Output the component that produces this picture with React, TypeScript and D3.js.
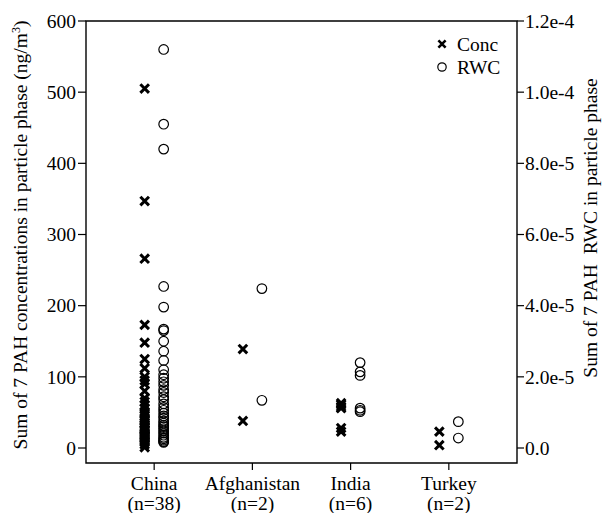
import React from "react";
import * as d3 from "d3";

const countries = ["China", "Afghanistan", "India", "Turkey"];
const sampleLabels = ["(n=38)", "(n=2)", "(n=6)", "(n=2)"];

// Sum of 7 PAH concentrations (ng/m3)
const concChina = [505, 347, 266, 173, 148, 125, 112, 100, 95, 90, 80, 70, 65, 60, 55, 50, 48, 45, 42, 40, 38, 35, 33, 30, 28, 26, 25, 22, 20, 18, 17, 15, 14, 12, 10, 8, 5, 1];
const concAfghanistan = [139, 38];
const concIndia = [63, 61, 58, 56, 28, 23];
const concTurkey = [23, 4];

// Sum of 7 PAH RWC
const rwcChina = [1.12e-4, 9.1e-5, 8.4e-5, 4.54e-5, 3.96e-5, 3.34e-5, 3.3e-5, 3.0e-5, 2.72e-5, 2.46e-5, 2.2e-5, 2.06e-5, 1.96e-5, 1.86e-5, 1.76e-5, 1.64e-5, 1.56e-5, 1.44e-5, 1.36e-5, 1.24e-5, 1.14e-5, 1.06e-5, 9.8e-6, 9.0e-6, 8.4e-6, 7.6e-6, 7.0e-6, 6.4e-6, 6.0e-6, 5.4e-6, 4.8e-6, 4.2e-6, 3.6e-6, 3.0e-6, 2.6e-6, 2.2e-6, 1.8e-6, 1.6e-6];
const rwcAfghanistan = [4.48e-5, 1.34e-5];
const rwcIndia = [2.4e-5, 2.14e-5, 2.04e-5, 1.12e-5, 1.06e-5, 1.02e-5];
const rwcTurkey = [7.4e-6, 2.8e-6];

const concTicks = [0, 100, 200, 300, 400, 500, 600];
const rwcTicks = [0, 2e-5, 4e-5, 6e-5, 8e-5, 1.0e-4, 1.2e-4];
const rwcTickLabels = ["0.0", "2.0e-5", "4.0e-5", "6.0e-5", "8.0e-5", "1.0e-4", "1.2e-4"];

const concSeries = [concChina, concAfghanistan, concIndia, concTurkey];
const rwcSeries = [rwcChina, rwcAfghanistan, rwcIndia, rwcTurkey];

const W = 602;
const H = 513;
const left = 86;
const right = 517;
const top = 21;
const bottom = 463;
const font = "'Liberation Serif', 'Times New Roman', Times, serif";

const x = d3.scalePoint<string>().domain(countries).range([left, right]).padding(0.694);
const yConc = d3.scaleLinear().domain([0, 600]).range([448, top]);
const yRwc = d3.scaleLinear().domain([0, 1.2e-4]).range([448, top]);

const cross = (cx: number, cy: number, r: number) =>
  `M${cx - r},${cy - r}L${cx + r},${cy + r}M${cx - r},${cy + r}L${cx + r},${cy - r}`;

const txt = { fontFamily: font, fontSize: 19.5 };

export default function App() {
  return (
    <svg width={W} height={H} style={{ position: "absolute", left: 0, top: 0, fontFamily: font }}>
      <rect width={W} height={H} fill="#fff" />
      {/* frame */}
      <path d={`M${left},${top}H${right}V${bottom}H${left}Z`} fill="none" stroke="#000" strokeWidth={1.4} />

      {/* left axis */}
      {concTicks.map((t) => (
        <g key={t} transform={`translate(0,${yConc(t)})`}>
          <line x1={left - 8} x2={left} stroke="#000" strokeWidth={1.2} />
          <text x={left - 10} dy="0.35em" textAnchor="end" style={txt}>{t}</text>
        </g>
      ))}

      {/* right axis */}
      {rwcTicks.map((t, i) => (
        <g key={i} transform={`translate(0,${yRwc(t)})`}>
          <line x1={right} x2={right + 7} stroke="#000" strokeWidth={1.2} />
          <text x={right + 8} dy="0.35em" textAnchor="start" style={txt}>{rwcTickLabels[i]}</text>
        </g>
      ))}

      {/* bottom axis */}
      {countries.map((c, i) => (
        <g key={c} transform={`translate(${x(c)},0)`}>
          <line y1={bottom} y2={bottom + 7} stroke="#000" strokeWidth={1.2} />
          <text y={490} textAnchor="middle" style={txt}>{c}</text>
          <text y={510} textAnchor="middle" style={txt}>{sampleLabels[i]}</text>
        </g>
      ))}

      {/* axis titles */}
      <text transform={`translate(27,235) rotate(-90)`} textAnchor="middle" style={txt}>
        Sum of 7 PAH concentrations in particle phase (ng/m<tspan dy="-7" fontSize={12}>3</tspan><tspan dy="7">)</tspan>
      </text>
      <text transform={`translate(597,228) rotate(-90)`} textAnchor="middle" style={{ ...txt, whiteSpace: "pre" }}>
        {"Sum of 7 PAH  RWC in particle phase"}
      </text>

      {/* Conc markers */}
      {concSeries.map((vals, i) =>
        vals.map((v, j) => (
          <path key={`c${i}-${j}`} d={cross((x(countries[i]) as number) - 9.5, yConc(v), 4.3)} stroke="#000" strokeWidth={3} fill="none" />
        ))
      )}

      {/* RWC markers */}
      {rwcSeries.map((vals, i) =>
        vals.map((v, j) => (
          <circle key={`r${i}-${j}`} cx={(x(countries[i]) as number) + 9.5} cy={yRwc(v)} r={4.8} stroke="#000" strokeWidth={1.2} fill="none" />
        ))
      )}

      {/* legend */}
      <path d={cross(442, 44, 3.6)} stroke="#000" strokeWidth={2.6} fill="none" />
      <text x={457} y={51} style={txt}>Conc</text>
      <circle cx={442} cy={67} r={4.2} stroke="#000" strokeWidth={1.2} fill="none" />
      <text x={457} y={74} style={txt}>RWC</text>
    </svg>
  );
}
